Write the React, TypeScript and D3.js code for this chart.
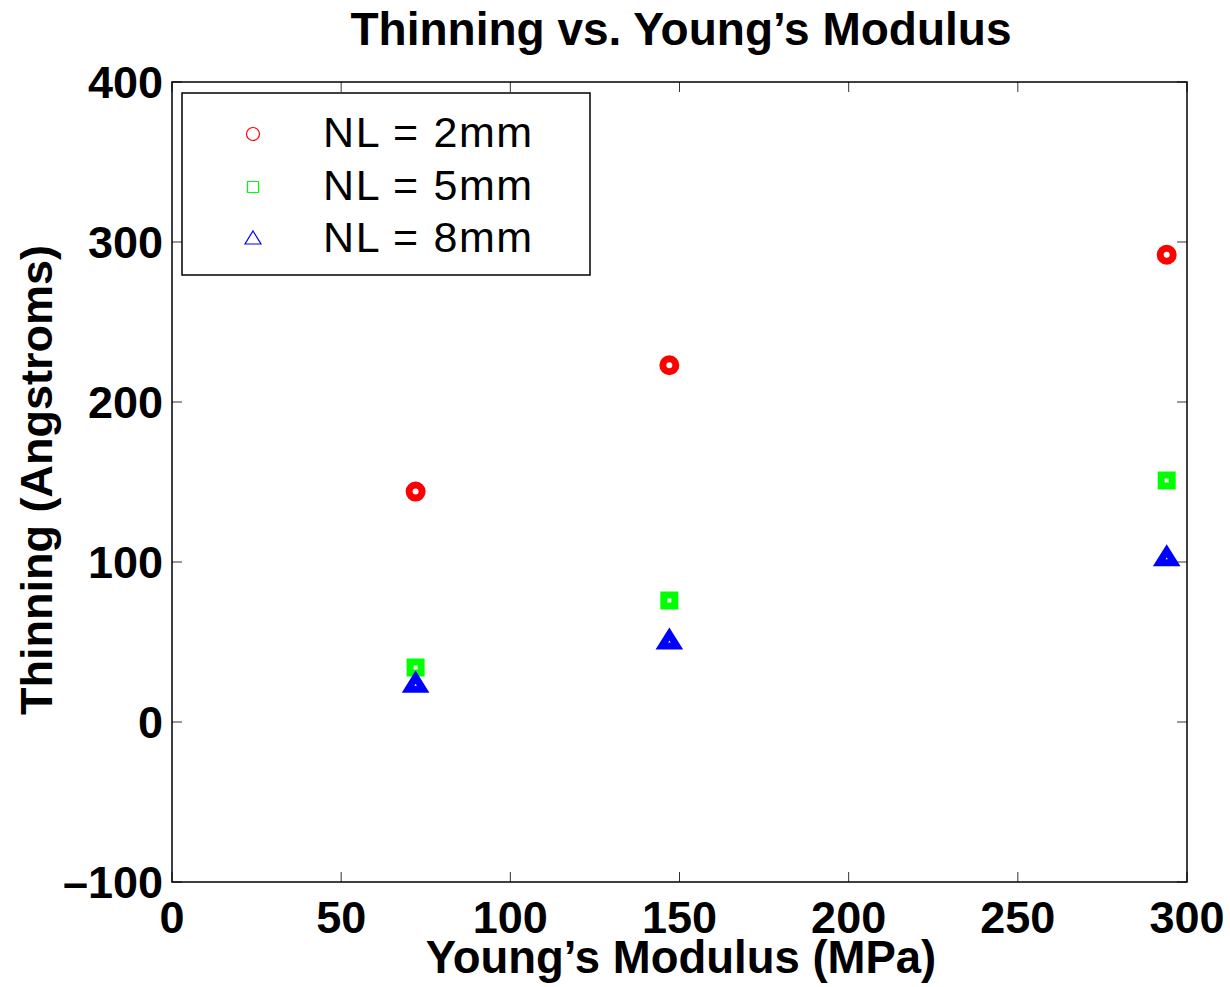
import React from "react";
import * as d3 from "d3";

const xValues = [72, 147, 294];
const series2mm = [144, 223, 292];
const series5mm = [34, 76, 151];
const series8mm = [23, 50, 102];
const xTicks = [0, 50, 100, 150, 200, 250, 300];
const yTicks = [-100, 0, 100, 200, 300, 400];
const legendLabels = ["NL = 2mm", "NL = 5mm", "NL = 8mm"];
const colors = ["#ff0000", "#00ff00", "#0000ff"];

const W = 1230;
const H = 987;
const L = 172, R = 1187, T = 82, B = 882;
const FONT = "'Liberation Sans', Arial, Helvetica, sans-serif";

function circlePath(r: number) {
  return `M${r},0A${r},${r} 0 1,1 ${-r},0A${r},${r} 0 1,1 ${r},0Z`;
}
function squarePath(h: number) {
  return `M${-h},${-h}H${h}V${h}H${-h}Z`;
}
function trianglePath(s: number) {
  return `M0,${-8 * s}L${7.5 * s},${4 * s}L${-7.5 * s},${4 * s}Z`;
}

export default function App() {
  const x = d3.scaleLinear().domain([0, 300]).range([L, R]);
  const y = d3.scaleLinear().domain([-100, 400]).range([B, T]);

  const series = [series2mm, series5mm, series8mm];
  const bigPaths = [circlePath(6.5), squarePath(5.5), trianglePath(1)];
  const legendPaths = [circlePath(6.5), squarePath(5.5), "M0,-7L8,6L-8,6Z"];
  const legendYs = [134, 187, 238];
  const legendTextYs = [147, 200, 252];

  return (
    <div style={{ position: "absolute", left: 0, top: 0 }}>
      <svg width={W} height={H} viewBox={`0 0 ${W} ${H}`} style={{ display: "block", background: "#fff" }}>
        <rect x={0} y={0} width={W} height={H} fill="#fff" />
        {xTicks.map((t) => (
          <g key={"xt" + t}>
            <line x1={x(t)} x2={x(t)} y1={B} y2={B - 10} stroke="#333" strokeWidth={1} />
            <line x1={x(t)} x2={x(t)} y1={T} y2={T + 10} stroke="#333" strokeWidth={1} />
            <text x={x(t)} y={933} textAnchor="middle" fontFamily={FONT} fontWeight="bold" fontSize={45} fill="#000">
              {t}
            </text>
          </g>
        ))}
        {yTicks.map((t) => (
          <g key={"yt" + t}>
            <line x1={L} x2={L + 10} y1={y(t)} y2={y(t)} stroke="#333" strokeWidth={1} />
            <line x1={R} x2={R - 10} y1={y(t)} y2={y(t)} stroke="#333" strokeWidth={1} />
            <text x={163} y={y(t) + 16} textAnchor="end" fontFamily={FONT} fontWeight="bold" fontSize={45} fill="#000">
              {t < 0 ? "\u2013" + Math.abs(t) : t}
            </text>
          </g>
        ))}
        <rect x={L} y={T} width={R - L} height={B - T} fill="none" stroke="#000" strokeWidth={1.5} />

        {series.map((vals, si) =>
          vals.map((v, i) => (
            <path
              key={`m${si}-${i}`}
              d={bigPaths[si]}
              transform={`translate(${x(xValues[i])},${y(v)})`}
              fill="none"
              stroke={colors[si]}
              strokeWidth={7}
              strokeLinejoin="miter"
            />
          ))
        )}

        <rect x={182} y={93} width={408} height={182} fill="#fff" stroke="#000" strokeWidth={1.5} />
        {legendLabels.map((lab, i) => (
          <g key={"lg" + i}>
            <path d={legendPaths[i]} transform={`translate(253,${legendYs[i]})`} fill="none" stroke={colors[i]} strokeWidth={1.2} />
            <text x={323} y={legendTextYs[i]} fontFamily={FONT} fontSize={43} letterSpacing={1.6} fill="#000">
              {lab}
            </text>
          </g>
        ))}

        <text x={681} y={45} textAnchor="middle" fontFamily={FONT} fontWeight="bold" fontSize={46} fill="#000">
          Thinning vs. Young’s Modulus
        </text>
        <text x={681} y={973} textAnchor="middle" fontFamily={FONT} fontWeight="bold" fontSize={45.5} fill="#000">
          Young’s Modulus (MPa)
        </text>
        <text
          transform={`translate(52,480) rotate(-90)`}
          textAnchor="middle"
          fontFamily={FONT}
          fontWeight="bold"
          fontSize={45}
          fill="#000"
        >
          Thinning (Angstroms)
        </text>
      </svg>
    </div>
  );
}
